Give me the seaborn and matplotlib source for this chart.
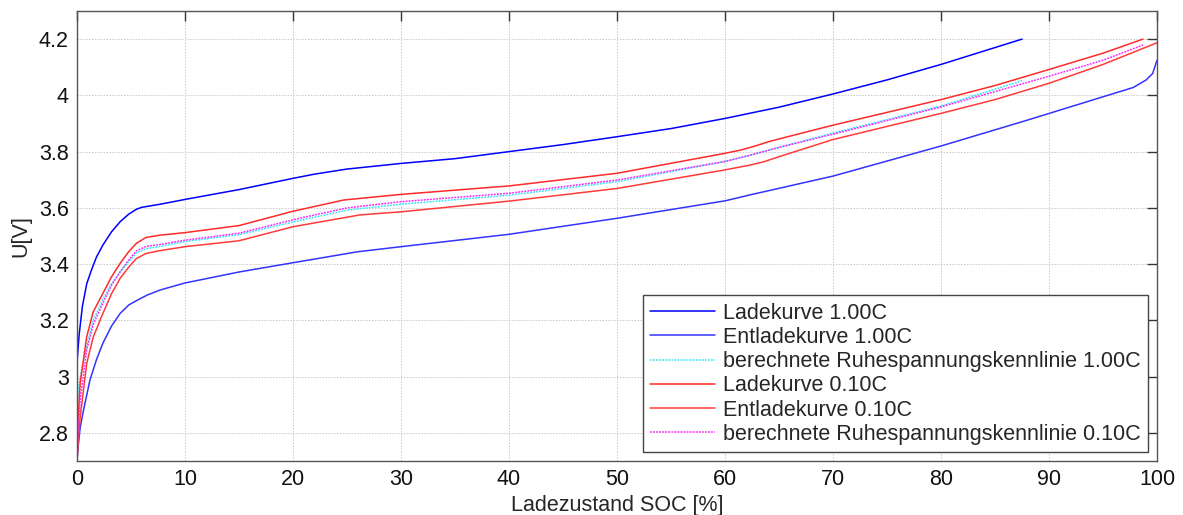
import numpy as np
import pandas as pd
import seaborn as sns
import matplotlib
matplotlib.use("Agg")
import matplotlib.pyplot as plt
from matplotlib.ticker import FuncFormatter

# --- data (SOC in %, voltage in V) ---
soc_lade_1c = [0, 0.2, 0.5, 0.9, 1.3, 1.8, 2.4, 3.2, 4.0, 4.8, 5.5, 6.0, 7.7, 10, 15, 20, 22, 25,
               30, 35, 40, 45, 50, 55, 60, 65, 70, 75, 80, 85, 87.5]
u_lade_1c = [3.05, 3.15, 3.25, 3.33, 3.375, 3.425, 3.468, 3.515, 3.551, 3.578, 3.595, 3.602,
             3.613, 3.63, 3.665, 3.705, 3.72, 3.738, 3.758, 3.775, 3.80, 3.825, 3.853, 3.882,
             3.918, 3.958, 4.005, 4.055, 4.11, 4.17, 4.2]

soc_entlade_1c = [0, 0.1, 0.3, 0.6, 1.2, 1.8, 2.4, 3.2, 4.0, 4.8, 5.5, 6.5, 7.7, 10, 15, 20, 26,
                  30, 40, 50, 60, 62.3, 70, 80, 88, 95, 97.8, 99.0, 99.6, 100]
u_entlade_1c = [2.70, 2.75, 2.82, 2.88, 2.988, 3.06, 3.119, 3.18, 3.225, 3.255, 3.27, 3.29,
                3.308, 3.333, 3.372, 3.405, 3.444, 3.462, 3.506, 3.563, 3.625, 3.646, 3.713,
                3.82, 3.912, 3.995, 4.028, 4.055, 4.078, 4.125]

soc_ruhe_1c = [0, 0.1, 0.3, 0.9, 1.5, 2.4, 3.2, 4.0, 4.8, 5.5, 6.4, 7.7, 10, 15, 20.6, 25, 30,
               40, 50, 60, 62.3, 65, 70, 80, 87.5]
u_ruhe_1c = [2.88, 2.95, 3.0, 3.11, 3.2, 3.275, 3.33, 3.372, 3.41, 3.44, 3.455, 3.463, 3.48,
             3.505, 3.555, 3.592, 3.613, 3.645, 3.693, 3.765, 3.787, 3.815, 3.866, 3.962, 4.052]

soc_lade_01c = [0, 0.1, 0.3, 0.9, 1.5, 2.4, 3.2, 4.0, 4.8, 5.5, 6.4, 7.7, 10, 15, 20, 24.7, 30,
                40, 50, 60, 61.5, 62.8, 64, 65.5, 70, 80, 85, 90, 95, 98.7]
u_lade_01c = [2.70, 2.85, 2.98, 3.142, 3.23, 3.296, 3.355, 3.403, 3.445, 3.474, 3.495, 3.503,
              3.512, 3.537, 3.588, 3.628, 3.648, 3.678, 3.723, 3.794, 3.806, 3.82, 3.835, 3.85,
              3.894, 3.985, 4.035, 4.092, 4.15, 4.2]

soc_entlade_01c = [0, 0.1, 0.3, 0.9, 1.5, 2.4, 3.2, 4.0, 4.8, 5.5, 6.4, 7.7, 10, 15, 20, 26.2,
                   30, 40, 50, 60, 62.3, 63.6, 65, 70, 80, 85, 90, 95, 100]
u_entlade_01c = [2.70, 2.76, 2.858, 3.047, 3.14, 3.225, 3.295, 3.35, 3.39, 3.42, 3.438, 3.448,
                 3.462, 3.483, 3.533, 3.575, 3.586, 3.624, 3.669, 3.735, 3.752, 3.764, 3.782,
                 3.843, 3.936, 3.985, 4.043, 4.11, 4.187]

soc_ruhe_01c = [0, 0.1, 0.3, 0.9, 1.5, 2.4, 3.2, 4.0, 4.8, 5.5, 6.4, 7.7, 10, 15, 20.6, 25, 30,
                40, 50, 60, 62.3, 65, 70, 80, 90, 95, 98.7]
u_ruhe_01c = [2.70, 2.80, 2.92, 3.095, 3.185, 3.262, 3.325, 3.373, 3.415, 3.447, 3.463, 3.47,
              3.485, 3.51, 3.563, 3.60, 3.622, 3.652, 3.699, 3.765, 3.787, 3.815, 3.862, 3.959,
              4.068, 4.125, 4.179]

labels = ["Ladekurve 1.00C", "Entladekurve 1.00C", "berechnete Ruhespannungskennlinie 1.00C",
          "Ladekurve 0.10C", "Entladekurve 0.10C", "berechnete Ruhespannungskennlinie 0.10C"]
x_ticks = [0, 10, 20, 30, 40, 50, 60, 70, 80, 90, 100]
y_ticks = [2.8, 3.0, 3.2, 3.4, 3.6, 3.8, 4.0, 4.2]

series = [
    (soc_lade_1c, u_lade_1c, "#0000ff", "-"),
    (soc_entlade_1c, u_entlade_1c, "#3333ff", "-"),
    (soc_ruhe_1c, u_ruhe_1c, "#33e6f0", (0, (1.2, 0.8))),
    (soc_lade_01c, u_lade_01c, "#ff2a2a", "-"),
    (soc_entlade_01c, u_entlade_01c, "#ff3a3a", "-"),
    (soc_ruhe_01c, u_ruhe_01c, "#ff22ff", (0, (1.2, 0.8))),
]

sns.set_style("white")
plt.rcParams['font.family'] = ['Liberation Sans', 'DejaVu Sans']
FS = 15.5

fig = plt.figure(figsize=(11.83, 5.15), dpi=100)
ax = fig.add_axes([77 / 1183, 1 - 461 / 515, 1080 / 1183, 450 / 515])

for (x, y, col, ls), lab in zip(series, labels):
    df = pd.DataFrame({"SOC": x, "U": y})
    sns.lineplot(data=df, x="SOC", y="U", ax=ax, color=col, linestyle=ls, linewidth=1.1,
                 label=lab, sort=False, estimator=None)

ax.set_xlim(0, 100)
ax.set_ylim(2.7, 4.3)
ax.set_xticks(x_ticks)
ax.set_yticks(y_ticks)
ax.yaxis.set_major_formatter(FuncFormatter(lambda v, p: f"{v:g}"))
ax.grid(True, color="#c8c8c8", linestyle=(0, (1.5, 1.5)), linewidth=0.7)
ax.tick_params(direction="in", length=7, width=1, color="#333333", top=True, right=True,
               labelsize=FS, pad=6, labelcolor="#111111")
for sp in ax.spines.values():
    sp.set_color("#555555")
    sp.set_linewidth(1.0)

ax.set_xlabel("Ladezustand SOC [%]", fontsize=FS, labelpad=3)
ax.set_ylabel("U[V]", fontsize=FS, labelpad=5)

leg = ax.legend(loc="lower right", fontsize=FS, frameon=True, fancybox=False,
                edgecolor="#444444", framealpha=1, handlelength=3.0, labelspacing=0.15,
                borderpad=0.35, borderaxespad=0.4, handletextpad=0.4)
leg.get_frame().set_linewidth(1.0)

fig.savefig("out.png", dpi=100)
